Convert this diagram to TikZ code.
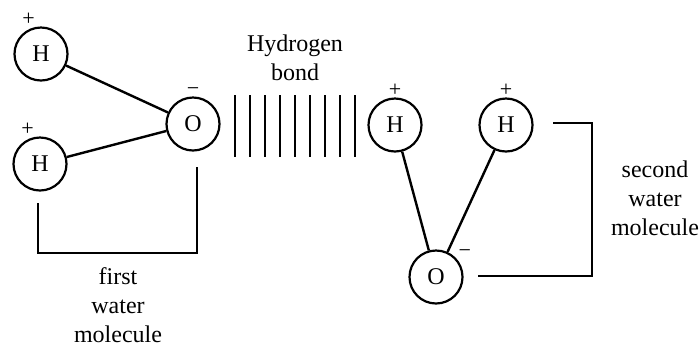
\documentclass[tikz,border=0pt]{standalone}
\usepackage{fontspec}
\setmainfont{Liberation Serif}
\tikzset{
  atom/.style = {circle, draw=black, fill=white, text=black, inner sep=0pt,
    minimum size=26.5pt, line width=1.1pt, font=\fontsize{12}{14.5}\selectfont},
  sgn/.style = {font=\fontsize{11}{12}\selectfont, inner sep=0.5pt},
  bnd/.style = {draw=black, line width=1.2pt},
  hb/.style = {draw=black, line width=1.4pt},
  brk/.style = {draw=black, line width=1.2pt},
  txt/.style = {font=\fontsize{12}{14.5}\selectfont, align=center}
}
\newcommand{\mns}{\symbol{"2212}}
\begin{document}
\begin{tikzpicture}[x=0.5pt, y=-0.5pt]
  \useasboundingbox (0,0) rectangle (700,345);
  % first water molecule
  \node [atom, label={[sgn]100:+}] (h1) at (41,54) {H};
  \node [atom, label={[sgn]100:+}] (h2) at (40,164) {H};
  \node [atom, label={[sgn]90:\mns}] (o1) at (193,124) {O};
  \draw [bnd] (h1) -- (o1);
  \draw [bnd] (h2) -- (o1);
  % second water molecule
  \node [atom, label={[sgn]90:+}] (h3) at (395,125) {H};
  \node [atom, label={[sgn]90:+}] (h4) at (506,125) {H};
  \node [atom, label={[sgn]40:\mns}] (o2) at (436,277) {O};
  \draw [bnd] (h3) -- (o2);
  \draw [bnd] (h4) -- (o2);
  % hydrogen bond
  \foreach \i in {0,...,8}
    \draw [hb] (235+15*\i,95) -- (235+15*\i,157);
  \node [txt] (hbt) at (295,58) {Hydrogen\\bond};
  % brackets
  \coordinate (b1a) at (38,203);
  \coordinate (b1b) at (197,167);
  \draw [brk] (b1a) |- (118,253) -| (b1b);
  \node [txt] (t1) at (118,305) {first\\water\\molecule};
  \coordinate (b2a) at (553,123);
  \coordinate (b2b) at (478,276);
  \draw [brk] (b2a) -| (592,200) |- (b2b);
  \node [txt] (t2) at (655,198) {second\\water\\molecule};
\end{tikzpicture}
\end{document}
